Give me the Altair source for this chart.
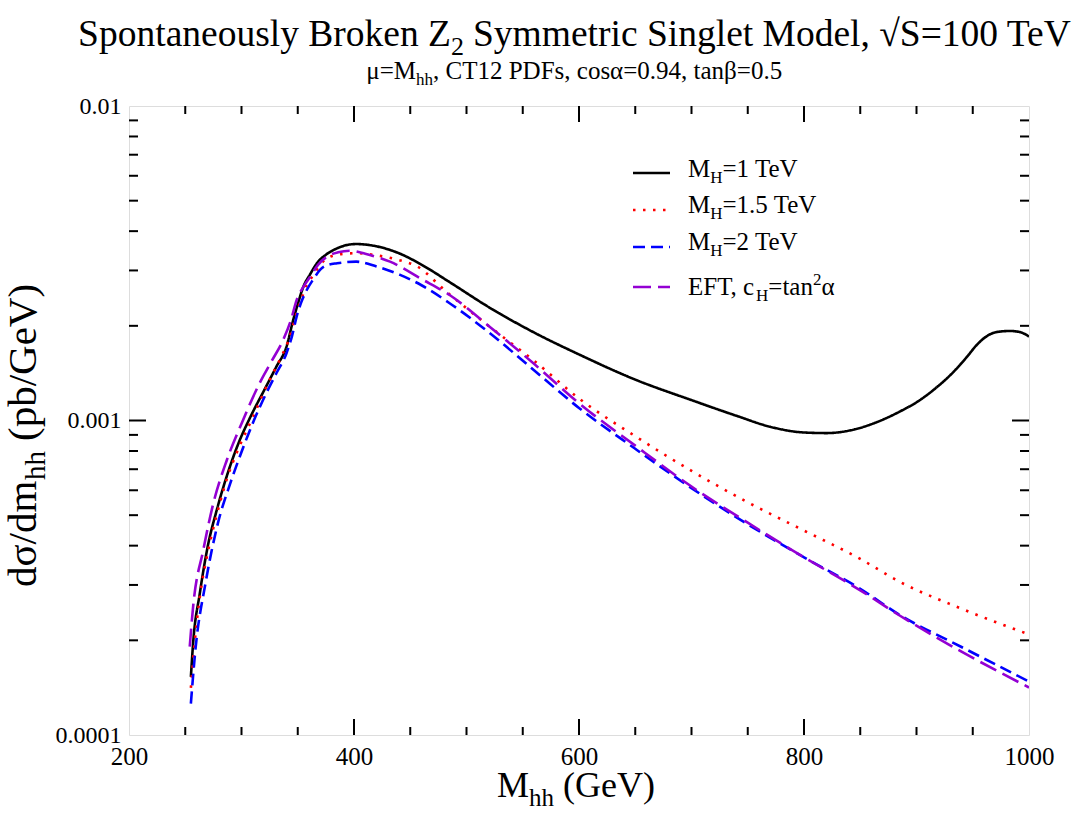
import altair as alt
import pandas as pd

# Invariant-mass distributions d(sigma)/dm_hh in pb/GeV
# M_H = 1 TeV
mhh_1tev = [255, 257, 263, 270, 278, 288, 297, 308, 320, 331, 340, 346, 350, 355, 361,
            367, 375, 385, 395, 402, 420, 441, 460, 485, 520, 560, 600, 650, 700, 740,
            770, 800, 820, 845, 865, 885, 903, 915, 933, 945, 953.5, 962, 971, 983,
            992, 1000]
dsig_1tev = [1.53e-4, 1.96e-4, 2.83e-4, 3.98e-4, 5.19e-4, 6.84e-4, 8.41e-4, 1.028e-3,
             1.245e-3, 1.483e-3, 1.718e-3, 2.089e-3, 2.344e-3, 2.664e-3, 2.917e-3,
             3.162e-3, 3.365e-3, 3.527e-3, 3.622e-3, 3.64e-3, 3.58e-3, 3.39e-3,
             3.13e-3, 2.754e-3, 2.291e-3, 1.905e-3, 1.622e-3, 1.349e-3, 1.161e-3,
             1.035e-3, 9.55e-4, 9.16e-4, 9.12e-4, 9.37e-4, 9.89e-4, 1.067e-3,
             1.161e-3, 1.25e-3, 1.429e-3, 1.596e-3, 1.738e-3, 1.849e-3, 1.91e-3,
             1.926e-3, 1.91e-3, 1.849e-3]

# M_H = 1.5 TeV
mhh_15tev = [255, 258, 263, 270, 278, 288, 296, 310, 325, 335, 343, 348, 353.5, 358,
             364, 371, 379, 390, 402, 420, 440, 456, 482, 520, 560, 600, 650, 700, 750,
             800, 850, 885, 939, 1000]
dsig_15tev = [1.413e-4, 1.905e-4, 2.754e-4, 3.802e-4, 5.012e-4, 6.683e-4, 7.94e-4,
              1.023e-3, 1.346e-3, 1.585e-3, 1.849e-3, 2.138e-3, 2.449e-3, 2.692e-3,
              2.904e-3, 3.162e-3, 3.319e-3, 3.388e-3, 3.404e-3, 3.35e-3, 3.236e-3,
              3.09e-3, 2.57e-3, 1.995e-3, 1.549e-3, 1.175e-3, 8.913e-4, 6.918e-4,
              5.495e-4, 4.467e-4, 3.631e-4, 3.072e-4, 2.529e-4, 2.089e-4]

# M_H = 2 TeV
mhh_2tev = [255, 259, 268, 279, 290, 300, 311, 322, 331, 340, 345, 349, 353, 358, 364,
            370, 377, 385, 402, 420, 441, 460, 485, 520, 560, 600, 650, 700, 750, 800,
            850, 885, 940, 1000]
dsig_2tev = [1.259e-4, 1.862e-4, 3.036e-4, 4.71e-4, 6.31e-4, 7.943e-4, 1.0e-3,
             1.22e-3, 1.413e-3, 1.637e-3, 1.862e-3, 2.138e-3, 2.371e-3, 2.6e-3,
             2.818e-3, 3.02e-3, 3.126e-3, 3.162e-3, 3.199e-3, 3.09e-3, 2.904e-3,
             2.692e-3, 2.36e-3, 1.905e-3, 1.445e-3, 1.096e-3, 8.128e-4, 6.095e-4,
             4.677e-4, 3.673e-4, 2.917e-4, 2.41e-4, 1.905e-4, 1.479e-4]

# EFT, c_H = tan^2(alpha)
mhh_eft = [254, 257, 266, 275, 287, 300, 316, 327, 337, 344, 349, 355, 361, 368, 376,
           386, 396, 410, 432, 460, 485, 520, 560, 600, 650, 700, 750, 800, 850, 885,
           940, 1000]
dsig_eft = [1.91e-4, 2.559e-4, 3.873e-4, 5.458e-4, 7.49e-4, 9.772e-4, 1.312e-3,
            1.549e-3, 1.803e-3, 2.089e-3, 2.415e-3, 2.661e-3, 2.864e-3, 3.126e-3,
            3.319e-3, 3.428e-3, 3.467e-3, 3.388e-3, 3.199e-3, 2.818e-3, 2.506e-3,
            1.995e-3, 1.514e-3, 1.135e-3, 8.318e-4, 6.166e-4, 4.732e-4, 3.673e-4,
            2.884e-4, 2.399e-4, 1.841e-4, 1.416e-4]

# Axis ticks
x_label_values = [200, 400, 600, 800, 1000]
x_major_ticks = [400, 600, 800]
x_minor_ticks = [250, 300, 350, 450, 500, 550, 650, 700, 750, 850, 900, 950]
y_label_values = [0.0001, 0.001, 0.01]
y_major_ticks = [0.001]
y_minor_ticks = [2e-4, 3e-4, 4e-4, 5e-4, 6e-4, 7e-4, 8e-4, 9e-4,
                 2e-3, 3e-3, 4e-3, 5e-3, 6e-3, 7e-3, 8e-3, 9e-3]

W, H = 900, 629
SERIF = "Liberation Serif"

x_scale = alt.Scale(domain=[200, 1000], nice=False, zero=False)
y_scale = alt.Scale(type="log", domain=[1e-4, 1e-2], nice=False)

x_axis = alt.Axis(values=x_label_values, format="d", ticks=False, domain=False,
                  grid=False, labelFont=SERIF, labelFontSize=25, labelColor="black",
                  labelPadding=9, labelFlush=False, labelOverlap=False, title=None)
y_axis = alt.Axis(values=y_label_values, format=".4~f", ticks=False, domain=False,
                  grid=False, labelFont=SERIF, labelFontSize=24, labelColor="black",
                  labelPadding=8, labelFlush=False, labelOverlap=False, title=None)


def X(field):
    return alt.X(field, scale=x_scale, axis=x_axis)


def Y(field):
    return alt.Y(field, scale=y_scale, axis=y_axis)


def curve(mhh, dsig, color, dash):
    df = pd.DataFrame({"mhh": mhh, "dsig": dsig})
    return alt.Chart(df).mark_line(
        color=color, strokeDash=dash, strokeWidth=2.6, interpolate="monotone", clip=True
    ).encode(x=X("mhh:Q"), y=Y("dsig:Q"))


def x_ticks(values, length):
    df = pd.DataFrame({"v": values})
    base = alt.Chart(df).mark_rule(color="black", strokeWidth=2)
    bottom = base.encode(x=X("v:Q"), y=alt.value(H), y2=alt.value(H - length))
    top = base.encode(x=X("v:Q"), y=alt.value(0), y2=alt.value(length))
    return [bottom, top]


def y_ticks(values, length):
    df = pd.DataFrame({"v": values})
    base = alt.Chart(df).mark_rule(color="black", strokeWidth=2)
    left = base.encode(y=Y("v:Q"), x=alt.value(0), x2=alt.value(length))
    right = base.encode(y=Y("v:Q"), x=alt.value(W), x2=alt.value(W - length))
    return [left, right]


one = pd.DataFrame({"k": [0]})


def text(t, x, y, size, align="left", angle=0, dx=0, dy=0, color="black"):
    kw = dict(text=t, font=SERIF, fontSize=size, align=align, baseline="alphabetic",
              color=color)
    if angle:
        kw["angle"] = angle
    if dx:
        kw["dx"] = dx
    if dy:
        kw["dy"] = dy
    return alt.Chart(one).mark_text(**kw).encode(x=alt.value(x), y=alt.value(y))


def sample(x1, x2, y, color, dash):
    return alt.Chart(one).mark_rule(color=color, strokeDash=dash, strokeWidth=2.6).encode(
        x=alt.value(x1), x2=alt.value(x2), y=alt.value(y))


DASH_SOLID = [1, 0]
DASH_DOT = [2.5, 7.5]
DASH_SHORT = [12, 6]
DASH_LONG = [18, 7]
PURPLE = "#9400d3"

layers = [
    curve(mhh_1tev, dsig_1tev, "black", DASH_SOLID),
    curve(mhh_15tev, dsig_15tev, "red", DASH_DOT),
    curve(mhh_2tev, dsig_2tev, "blue", DASH_SHORT),
    curve(mhh_eft, dsig_eft, PURPLE, DASH_LONG),
]
layers += x_ticks(x_major_ticks, 16) + x_ticks(x_minor_ticks, 8)
layers += y_ticks(y_major_ticks, 17) + y_ticks(y_minor_ticks, 9)

# Title and subtitle
layers += [
    text("Spontaneously Broken Z", 322, -60, 37.5, align="right"),
    text("2", 322, -51, 26),
    text("Symmetric Singlet Model, \u221aS=100 TeV", 344, -60, 37.5),
    text("\u03bc=M", 287, -27, 25, align="right"),
    text("hh", 287, -21, 17),
    text(", CT12 PDFs, cos\u03b1=0.94, tan\u03b2=0.5", 304, -27, 25),
]

# Axis titles
layers += [
    text("M", 400, 691, 36, align="right"),
    text("hh", 400, 700, 25),
    text("(GeV)", 434, 691, 36),
    text("d\u03c3/dm", -93, 481, 41, angle=270),
    text("hh", -93, 481, 29, angle=270, dx=107, dy=9),
    text("(pb/GeV)", -93, 481, 41, angle=270, dx=146),
]

# Legend
LX1, LX2, TX = 504, 541, 559
rows = [
    (67, 71, "black", DASH_SOLID, "=1 TeV"),
    (104, 107, "red", DASH_DOT, "=1.5 TeV"),
    (141, 144, "blue", DASH_SHORT, "=2 TeV"),
]
for ys, yt, col, dash, rest in rows:
    layers += [
        sample(LX1, LX2, ys, col, dash),
        text("M", TX, yt, 25),
        text("H", TX + 22.2, yt + 6, 17),
        text(rest, TX + 34.5, yt, 25),
    ]
layers += [
    sample(LX1, LX2, 181, PURPLE, DASH_LONG),
    text("EFT, c", TX, 189, 25),
    text("H", TX + 68, 195, 17),
    text("=tan", TX + 80.3, 189, 25),
    text("2", TX + 125, 179, 17),
    text("\u03b1", TX + 133.5, 189, 25),
]

chart = alt.layer(*layers).properties(
    width=W, height=H,
    padding={"left": 129, "top": 106, "right": 55, "bottom": 80},
    autosize="none",
).configure_view(
    stroke="black", strokeWidth=2
).configure_axis(
    labelFont=SERIF, labelColor="black"
).configure_axisX(
    labelFontSize=25, labelPadding=9
).configure_axisY(
    labelFontSize=24, labelPadding=8
).configure(background="white")

chart.save("out.html", embed_options={"renderer": "svg", "actions": False})
